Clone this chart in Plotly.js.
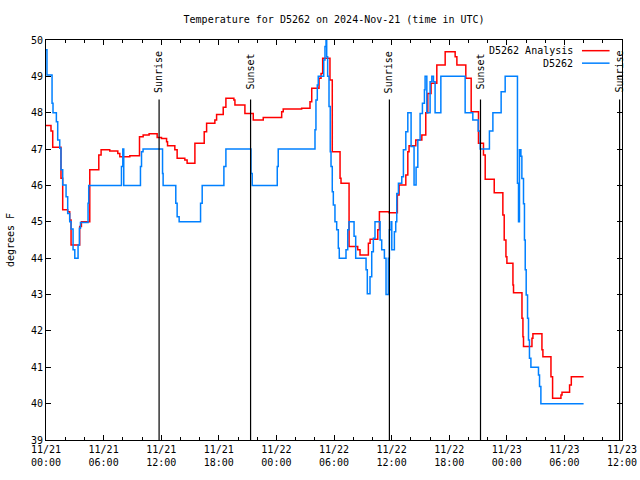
<!DOCTYPE html>
<html>
<head>
<meta charset="utf-8">
<script src="https://cdn.plot.ly/plotly-3.0.1.min.js"></script>
<style>html,body{margin:0;padding:0;background:#fff;}#chart{width:640px;height:480px;}</style>
</head>
<body>
<div id="chart"></div>
<script>
// Hours after 2024-11-21 00:00 UTC
const analysisHours = [0,0.52,0.70,1.56,1.74,2.26,2.47,2.61,3.51,3.69,4.56,5.50,5.74,6.64,7.48,7.69,8.73,9.74,10.12,10.74,11.58,12.03,12.56,12.66,13.42,13.66,14.46,14.70,15.51,16.48,16.73,17.59,17.77,18.46,18.74,19.57,19.68,20.72,21.59,22.63,24.55,24.71,26.63,27.50,27.68,28.44,28.65,28.82,29.58,29.82,30.63,30.73,31.57,32.47,32.71,33.58,33.76,34.56,34.73,35.74,36.60,36.78,37.48,37.69,37.82,38.52,39.15,39.56,39.77,40.11,40.71,41.58,42.62,42.80,43.73,44.29,45.05,45.57,45.75,46.69,47.59,47.73,47.91,48.01,48.64,48.70,49.58,49.68,49.74,50.62,50.72,51.66,51.76,52.60,52.77,53.64,53.75,54.54,54.72,56.00];
const analysisTemps = [47.65,47.5,47.05,46.2,45.33,45.28,45.05,44.36,44.87,45.0,46.43,46.84,46.98,46.95,46.88,46.79,46.82,47.34,47.39,47.42,47.32,47.29,47.2,47.09,46.98,46.75,46.7,46.61,47.16,47.48,47.71,47.8,47.95,48.15,48.4,48.35,48.21,47.98,47.8,47.87,48.03,48.1,48.12,48.3,48.67,48.95,49.08,49.5,48.9,46.93,46.2,46.06,44.32,44.23,44.09,44.41,44.52,44.78,45.28,45.25,45.74,46.01,46.29,46.93,47.09,47.25,47.39,48.0,48.53,48.81,49.31,49.68,49.54,49.31,48.95,48.03,47.16,46.84,46.17,45.8,45.19,44.5,44.04,43.86,43.26,43.05,42.35,41.84,41.57,41.8,41.92,41.48,41.29,40.74,40.15,40.24,40.31,40.51,40.74,40.74];

const obsHours = [0,0.10,0.63,0.73,1.08,1.22,1.43,1.56,1.74,2.09,2.26,2.47,2.61,2.82,3.00,3.34,3.48,3.59,4.38,4.45,7.86,8.00,8.10,9.84,9.95,10.11,12.14,12.20,13.52,13.66,13.87,16.10,16.27,18.53,18.74,21.35,21.48,24.09,24.19,28.02,28.12,28.26,28.36,28.93,29.06,29.17,29.24,29.34,29.48,29.61,29.69,29.82,29.93,30.10,30.28,30.45,30.55,31.25,31.43,31.56,32.09,32.26,33.34,33.47,33.75,33.93,34.10,34.27,34.80,34.97,35.25,35.42,35.66,35.77,35.95,36.02,36.29,36.43,36.54,36.71,37.06,37.23,37.48,37.69,38.03,38.34,38.55,38.73,38.97,39.21,39.42,39.49,39.67,40.01,40.19,40.36,40.53,41.13,43.66,44.46,45.02,45.23,46.19,46.55,47.41,47.83,49.11,49.22,49.32,49.47,49.57,49.74,49.84,49.92,50.02,50.16,50.26,50.36,50.51,51.30,51.41,51.55,56.00];
const obsTemps = [49.73,49.04,48.26,48.0,47.75,47.25,47.02,46.43,46.01,45.69,45.23,45.0,44.8,44.23,44.0,44.36,44.82,44.98,45.51,46.0,46.52,47.0,46.0,46.52,46.93,47.0,46.33,46.0,45.51,45.14,45.0,45.51,46.0,46.52,47.0,46.33,46.0,46.52,47.0,47.53,48.35,48.76,49.0,49.45,49.82,50.0,49.54,49.0,48.17,46.93,46.52,45.83,45.46,45.0,44.78,44.27,44.0,44.23,44.78,45.0,44.6,44.0,43.68,43.02,43.49,44.18,44.55,45.0,44.5,44.23,44.0,43.0,44.0,44.78,45.0,44.23,44.73,45.0,45.78,46.06,46.24,46.98,47.48,48.0,47.07,46.01,46.5,47.25,47.98,48.26,48.63,49.0,48.0,48.85,49.0,48.85,48.0,49.0,48.0,47.8,47.5,47.0,47.5,48.0,48.58,49.0,46.06,45.0,46.98,46.8,46.19,45.5,44.5,43.68,42.99,42.35,41.75,41.25,41.0,40.79,40.47,40.0,40.0];

const sunHours = [11.78, 21.31, 35.77, 45.26, 59.75];
const sunLabels = ["Sunrise", "Sunset", "Sunrise", "Sunset", "Sunrise"];

const tickHours = [0,6,12,18,24,30,36,42,48,54,60];
const tickLabels = ["11/21<br>00:00","11/21<br>06:00","11/21<br>12:00","11/21<br>18:00","11/22<br>00:00","11/22<br>06:00","11/22<br>12:00","11/22<br>18:00","11/23<br>00:00","11/23<br>06:00","11/23<br>12:00"];

const seriesNames = ["D5262 Analysis", "D5262"];
const seriesColors = ["#ff0000", "#0080ff"];

const FONT = "DejaVu Sans Mono, monospace";

const traces = [
  {x: analysisHours, y: analysisTemps, name: seriesNames[0], type: "scatter", mode: "lines",
   line: {shape: "hv", color: seriesColors[0], width: 1.5}},
  {x: obsHours, y: obsTemps, name: seriesNames[1], type: "scatter", mode: "lines",
   line: {shape: "hv", color: seriesColors[1], width: 1.5}}
];

const shapes = [];
const annotations = [];
sunHours.forEach((h, i) => {
  shapes.push({type: "line", xref: "x", yref: "paper", x0: h, x1: h, y0: 0, y1: 0.851,
    line: {color: "black", width: 1.2}});
  annotations.push({xref: "x", yref: "paper", x: h, y: 0.92, text: sunLabels[i], textangle: -90,
    showarrow: false, font: {family: FONT, size: 10, color: "black"}, xanchor: "center", yanchor: "middle"});
});
// legend (gnuplot style: text right, sample line)
const legY = [0.9733, 0.9421];
seriesNames.forEach((n, i) => {
  annotations.push({xref: "paper", yref: "paper", x: 0.9176, y: legY[i], text: n, showarrow: false,
    xanchor: "right", yanchor: "middle", font: {family: FONT, size: 10, color: "black"}});
  shapes.push({type: "line", xref: "paper", yref: "paper", x0: 0.9305, x1: 0.9784, y0: legY[i], y1: legY[i],
    line: {color: seriesColors[i], width: 1.5}});
});

const layout = {
  width: 640, height: 480,
  margin: {l: 46, r: 18, t: 40, b: 40, pad: 0},
  paper_bgcolor: "#fff", plot_bgcolor: "#fff",
  showlegend: false,
  font: {family: FONT, size: 10, color: "black"},
  title: {text: "Temperature for D5262 on 2024-Nov-21 (time in UTC)", x: 0.522, xanchor: "center", y: 0.96, yanchor: "middle",
    font: {family: FONT, size: 10, color: "black"}},
  xaxis: {range: [0, 60], tickmode: "array", tickvals: tickHours, ticktext: tickLabels,
    ticks: "inside", ticklen: 5, tickcolor: "black", showline: true, linecolor: "black", linewidth: 1,
    mirror: "allticks", showgrid: false, zeroline: false,
    minor: {tickmode: "linear", tick0: 0, dtick: 2, ticks: "inside", ticklen: 3, tickcolor: "black"},
    tickfont: {family: FONT, size: 10, color: "black"}},
  yaxis: {range: [39, 50], dtick: 1, tick0: 39, ticks: "inside", ticklen: 5, tickcolor: "black",
    showline: true, linecolor: "black", linewidth: 1, mirror: "allticks", showgrid: false, zeroline: false,
    title: {text: "degrees F", font: {family: FONT, size: 10, color: "black"}, standoff: 14},
    tickfont: {family: FONT, size: 10, color: "black"}},
  shapes: shapes,
  annotations: annotations
};

Plotly.newPlot("chart", traces, layout, {staticPlot: true, displayModeBar: false});
</script>
</body>
</html>
